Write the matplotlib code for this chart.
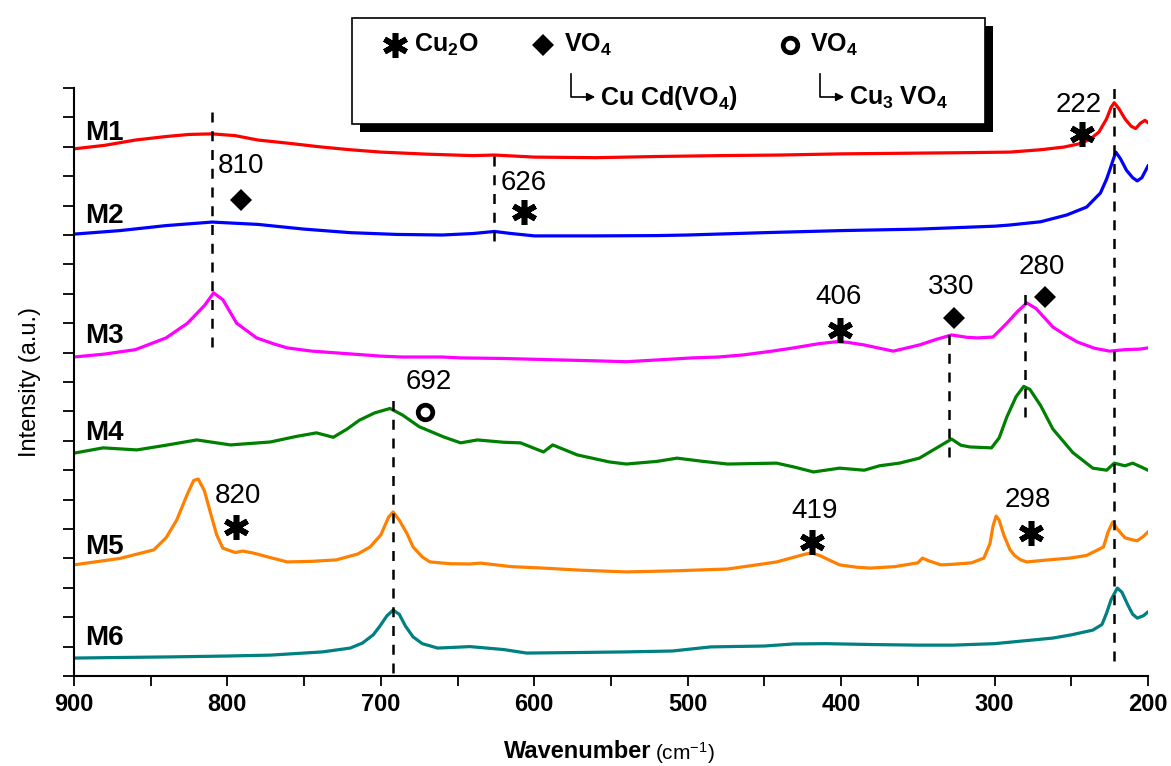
import matplotlib
matplotlib.use('Agg')
import matplotlib.pyplot as plt
from matplotlib.patches import Rectangle
from matplotlib.ticker import MultipleLocator

plt.rcParams['font.family'] = ['Liberation Sans', 'DejaVu Sans']
plt.rcParams['mathtext.default'] = 'regular'

# Raman spectra (wavenumber in cm-1, stacked intensity in a.u.)
m1_w = [900, 880, 860, 840, 825, 810, 795, 780, 760, 740, 720, 700, 670, 640, 626, 600, 560, 520,
        480, 440, 400, 360, 320, 290, 270, 255, 245, 238, 232, 227, 224, 222, 219, 215, 211, 208, 205, 202, 200]
m1_y = [17.93, 18.05, 18.23, 18.35, 18.42, 18.44, 18.38, 18.23, 18.12, 18.0, 17.9, 17.82, 17.75, 17.7, 17.72,
        17.65, 17.63, 17.67, 17.7, 17.72, 17.76, 17.78, 17.8, 17.82, 17.9, 17.99, 18.1, 18.25, 18.5, 18.95,
        19.35, 19.5, 19.3, 18.95, 18.7, 18.62, 18.8, 18.9, 18.82]

m2_w = [900, 870, 840, 810, 780, 750, 720, 690, 660, 640, 626, 615, 600, 560, 520, 500, 450, 400, 350,
        300, 290, 270, 253, 240, 231, 227, 225, 221, 218, 214, 210, 207, 204, 200]
m2_y = [15.03, 15.15, 15.32, 15.44, 15.36, 15.2, 15.08, 15.02, 15.0, 15.05, 15.12, 15.05, 14.97, 14.97,
        14.98, 15.0, 15.08, 15.15, 15.2, 15.3, 15.34, 15.45, 15.68, 15.95, 16.43, 16.9, 17.2, 17.82, 17.6,
        17.2, 16.95, 16.84, 16.95, 17.35]

m3_w = [900, 880, 860, 852, 840, 826, 815, 809, 803, 794, 781, 770, 761, 745, 729, 700, 686, 660, 648,
        620, 583, 560, 540, 520, 497, 480, 464, 445, 431, 415, 403, 396, 385, 366, 349, 338, 328, 318, 311,
        301, 292, 285, 279, 273, 262, 254, 246, 235, 225, 215, 205, 200]
m3_y = [10.85, 10.95, 11.1, 11.26, 11.5, 12.0, 12.6, 13.03, 12.8, 12.0, 11.5, 11.3, 11.16, 11.05, 10.99,
        10.88, 10.85, 10.85, 10.82, 10.8, 10.75, 10.72, 10.69, 10.75, 10.82, 10.85, 10.92, 11.05, 11.16,
        11.3, 11.37, 11.35, 11.26, 11.05, 11.26, 11.45, 11.6, 11.52, 11.5, 11.53, 12.0, 12.4, 12.69, 12.5,
        11.87, 11.6, 11.36, 11.15, 11.05, 11.1, 11.12, 11.16]

m4_w = [900, 881, 859, 840, 820, 798, 772, 755, 742, 731, 722, 714, 704, 694, 686, 675, 659, 648, 637,
        620, 609, 594, 588, 572, 551, 540, 520, 507, 490, 474, 442, 430, 418, 401, 385, 375, 362, 349, 338,
        328, 322, 316, 302, 297, 292, 286, 281, 277, 270, 262, 249, 236, 227, 222, 215, 210, 204, 200]
m4_y = [7.58, 7.76, 7.69, 7.85, 8.03, 7.86, 7.96, 8.15, 8.27, 8.12, 8.4, 8.7, 8.95, 9.1, 8.88, 8.48, 8.13,
        7.93, 8.03, 7.95, 7.93, 7.62, 7.86, 7.52, 7.28, 7.21, 7.3, 7.41, 7.3, 7.21, 7.24, 7.1, 6.94, 7.07,
        7.0, 7.15, 7.24, 7.41, 7.75, 8.06, 7.85, 7.79, 7.76, 8.1, 8.81, 9.5, 9.85, 9.75, 9.2, 8.4, 7.6, 7.07,
        7.0, 7.24, 7.15, 7.24, 7.1, 7.0]

m5_w = [900, 870, 848, 840, 833, 826, 822, 819, 815, 811, 807, 803, 795, 790, 783, 770, 761, 745, 729,
        715, 707, 700, 695, 692, 688, 683, 679, 673, 668, 655, 642, 635, 615, 594, 570, 540, 507, 474, 455,
        442, 430, 423, 419, 414, 408, 401, 390, 381, 365, 350, 347, 343, 335, 327, 315, 307, 303, 301, 299,
        297, 294, 290, 287, 283, 279, 265, 251, 240, 229, 226, 223, 220, 215, 210, 207, 203, 200]
m5_y = [3.78, 4.0, 4.29, 4.7, 5.31, 6.2, 6.65, 6.7, 6.3, 5.54, 4.8, 4.35, 4.2, 4.25, 4.18, 4.0, 3.88, 3.9,
        3.95, 4.15, 4.39, 4.8, 5.4, 5.58, 5.3, 4.85, 4.39, 4.05, 3.88, 3.82, 3.81, 3.84, 3.72, 3.67, 3.6,
        3.54, 3.58, 3.64, 3.78, 3.88, 4.05, 4.15, 4.18, 4.1, 3.95, 3.78, 3.7, 3.67, 3.72, 3.85, 4.01, 3.92,
        3.78, 3.8, 3.85, 4.01, 4.5, 5.1, 5.44, 5.3, 4.8, 4.3, 4.1, 3.95, 3.88, 3.95, 4.01, 4.1, 4.39, 4.9,
        5.24, 5.0, 4.7, 4.63, 4.6, 4.75, 4.9]

m6_w = [900, 870, 837, 800, 772, 738, 720, 712, 705, 701, 696, 692, 688, 684, 679, 673, 663, 650, 642,
        620, 605, 570, 540, 510, 485, 450, 431, 410, 380, 350, 327, 300, 262, 250, 236, 230, 227, 224, 220,
        217, 213, 210, 207, 203, 200]
m6_y = [0.61, 0.63, 0.65, 0.68, 0.71, 0.82, 0.95, 1.12, 1.4, 1.67, 2.05, 2.24, 2.1, 1.7, 1.33, 1.1, 0.95,
        0.98, 1.0, 0.9, 0.78, 0.8, 0.82, 0.85, 0.99, 1.02, 1.09, 1.1, 1.07, 1.05, 1.05, 1.1, 1.29, 1.4, 1.56,
        1.75, 2.14, 2.6, 2.99, 2.85, 2.4, 2.1, 1.97, 2.05, 2.18]

names = ['M1', 'M2', 'M3', 'M4', 'M5', 'M6']
colors = ['#ff0000', '#0000ff', '#ff00ff', '#008000', '#ff8000', '#008080']
spectra = [(m1_w, m1_y), (m2_w, m2_y), (m3_w, m3_y), (m4_w, m4_y), (m5_w, m5_y), (m6_w, m6_y)]
name_y = [18.47, 15.65, 11.56, 8.27, 4.39, 1.29]

# peak guide lines: position, lower end, upper end
guide_w = [810, 626, 692, 330, 280, 222]
guide_lo = [11.2, 14.8, 0.1, 7.45, 8.8, 0.5]
guide_hi = [19.3, 17.9, 9.6, 11.7, 13.06, 20.0]

# peak labels: value, phase symbol ('star' Cu2O, 'diamond' CuCd(VO4), 'ring' Cu3VO4)
peak_vals = [810, 626, 222, 406, 330, 280, 692, 820, 419, 298]
peak_sym = ['diamond', 'star', 'star', 'star', 'diamond', 'diamond', 'ring', 'star', 'star', 'star']
label_pos = [(791, 17.35), (607, 16.77), (245.5, 19.42), (402, 12.9), (328.3, 13.23),
             (269, 13.9), (668.6, 10.0), (793, 6.12), (417.6, 5.61), (278.1, 5.99)]
sym_pos = [(791, 16.2), (607, 15.78), (243, 18.44), (401, 11.77), (326.3, 12.18),
           (267, 12.9), (671.2, 8.98), (794.4, 5.07), (418.9, 4.56), (276, 4.86)]

fig = plt.figure(figsize=(11.71, 7.66), dpi=100)
ax = fig.add_axes([74 / 1171, 90 / 766, 1074 / 1171, 588 / 766])

for (w, y), c in zip(spectra, colors):
    ax.plot(w, y, color=c, lw=2.3, zorder=2)

ax.vlines(guide_w, guide_lo, guide_hi, colors='k', linestyles=(0, (4, 3.5)), lw=1.8, zorder=3)

for n, ny in zip(names, name_y):
    ax.text(893, ny, n, fontsize=20, fontweight='bold', ha='left', va='center', zorder=4)

star_style = dict(marker=(6, 2, 0), ms=18, color='k', mew=4.0)
sym_style = {
    'star': star_style,
    'diamond': dict(marker='D', ms=11.5, color='k', mew=0),
    'ring': dict(marker='o', ms=10.5, mfc='white', mec='k', mew=3.4),
}
for v, s, (tx, ty), (sx, sy) in zip(peak_vals, peak_sym, label_pos, sym_pos):
    ax.text(tx, ty, str(v), fontsize=20, ha='center', va='center', zorder=4)
    ax.plot([sx], [sy], ls='none', zorder=4, **sym_style[s])

ax.set_xlim(900, 200)
ax.set_ylim(0, 20)
ax.xaxis.set_major_locator(MultipleLocator(100))
ax.xaxis.set_minor_locator(MultipleLocator(50))
ax.yaxis.set_major_locator(MultipleLocator(1))
ax.tick_params(axis='x', which='both', direction='out', length=7, width=1.3, pad=5)
ax.tick_params(axis='y', which='both', direction='out', length=8, width=1.3, labelleft=False)
for lab in ax.get_xticklabels():
    lab.set_fontweight('bold')
    lab.set_fontsize(17)
for side in ['top', 'right']:
    ax.spines[side].set_visible(False)
for side in ['left', 'bottom']:
    ax.spines[side].set_linewidth(1.5)

ax.set_ylabel('Intensity (a.u.)', fontsize=17)
ax.yaxis.set_label_coords(-0.031, 0.5)

# overlay in pixel units for the phase key and the x-axis title
ov = fig.add_axes([0, 0, 1, 1], zorder=5)
ov.set_xlim(0, 1171)
ov.set_ylim(766, 0)
ov.axis('off')

ov.add_patch(Rectangle((360, 26), 633, 106, facecolor='k', edgecolor='none'))
ov.add_patch(Rectangle((352, 18), 633, 106, facecolor='white', edgecolor='k', lw=1.2))

key_font = dict(fontsize=18, fontweight='bold', va='center', ha='left')
ov.plot([395], [45], **star_style)
ov.text(414, 45, 'Cu$_2$O', **key_font)
ov.plot([543], [45], marker='D', ms=11.5, color='k', mew=0)
ov.text(564, 45, 'VO$_4$', **key_font)
ov.plot([790], [45], marker='o', ms=10.5, mfc='white', mec='k', mew=3.4)
ov.text(810, 45, 'VO$_4$', **key_font)
for x0, txt in [(571, 'Cu Cd(VO$_4$)'), (820, 'Cu$_3$ VO$_4$')]:
    ov.plot([x0, x0, x0 + 12], [74, 97, 97], color='k', lw=1.2)
    ov.annotate('', xy=(x0 + 27, 97), xytext=(x0 + 10, 97),
                arrowprops=dict(arrowstyle='-|>', color='k', lw=1.2, mutation_scale=12))
    ov.text(x0 + 29, 98, txt, **key_font)

ov.text(651, 752, 'Wavenumber', fontsize=17, fontweight='bold', ha='right', va='center')
ov.text(655, 753, '(cm$^{-1}$)', fontsize=15, ha='left', va='center')

fig.savefig('out.png', dpi=100)
plt.close(fig)
